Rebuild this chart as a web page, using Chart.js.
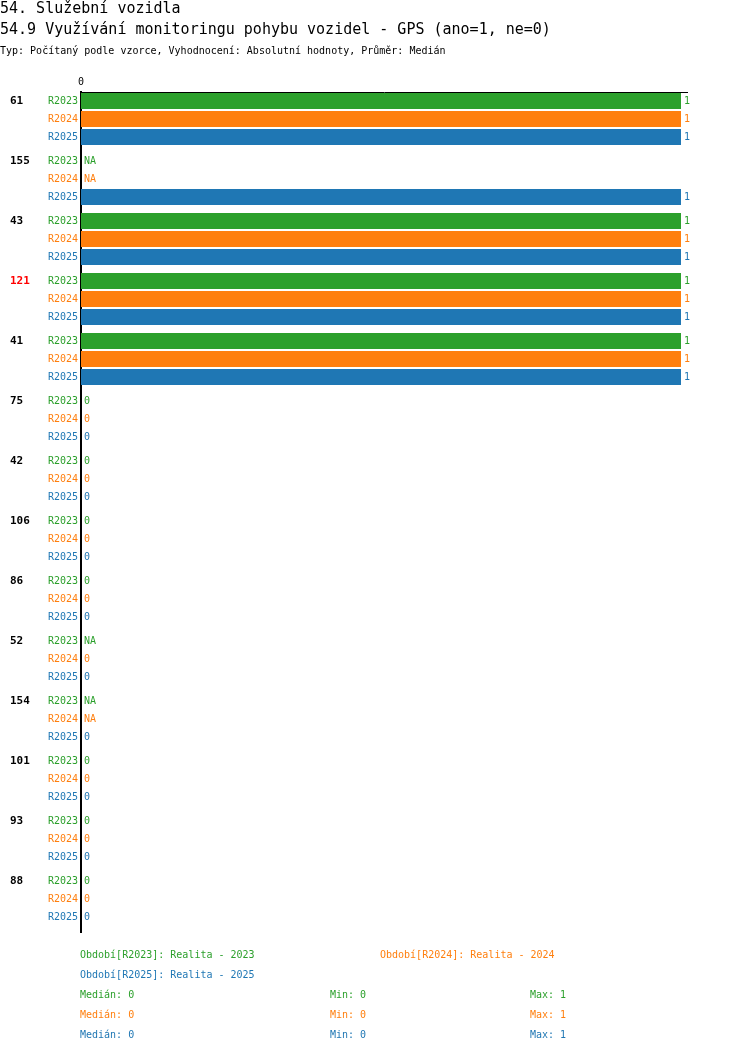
<!DOCTYPE html>
<html>
<head>
<meta charset="utf-8">
<script src="https://cdn.jsdelivr.net/npm/chart.js@4/dist/chart.umd.min.js"></script>
<style>
  html, body { margin:0; padding:0; background:#fff; }
  #wrap { position:relative; width:750px; height:1052px; overflow:hidden; font-family:"DejaVu Sans Mono", monospace; }
  #chart { position:absolute; left:0; top:0; }
  .t { position:absolute; white-space:pre; }
  .h1 { font-size:15px; line-height:15px; color:#000; }
  .sm { font-size:10px; line-height:10px; }
</style>
</head>
<body>
<div id="wrap">
  <canvas id="chart" width="750" height="1052"></canvas>
  <div class="t h1" style="left:0;top:1px;">54. Služební vozidla</div>
  <div class="t h1" style="left:0;top:22px;">54.9 Využívání monitoringu pohybu vozidel - GPS (ano=1, ne=0)</div>
  <div class="t sm" style="left:0;top:46px;color:#000;">Typ: Počítaný podle vzorce, Vyhodnocení: Absolutní hodnoty, Průměr: Medián</div>
  <div id="legend"></div>
</div>
<script>
const groups = ['61', '155', '43', '121', '41', '75', '42', '106', '86', '52', '154', '101', '93', '88'];
const highlighted = ['121'];
const r2023 = [1, null, 1, 1, 1, 0, 0, 0, 0, null, null, 0, 0, 0];
const r2024 = [1, null, 1, 1, 1, 0, 0, 0, 0, 0, null, 0, 0, 0];
const r2025 = [1, 1, 1, 1, 1, 0, 0, 0, 0, 0, 0, 0, 0, 0];
const seriesNames = ['R2023', 'R2024', 'R2025'];
const periodNames = ['Realita - 2023', 'Realita - 2024', 'Realita - 2025'];
const xTicks = [0];

const COLORS = ['#2ca02c', '#ff7f0e', '#1f77b4'];
const FONT = '"DejaVu Sans Mono", monospace';
const series = [r2023, r2024, r2025];

function median(arr) {
  const v = arr.filter(x => x !== null).sort((a, b) => a - b);
  if (!v.length) return 'NA';
  const m = Math.floor(v.length / 2);
  return v.length % 2 ? v[m] : (v[m - 1] + v[m]) / 2;
}

// legend / stats under the chart
const leg = document.getElementById('legend');
const periodPos = [[80, 950], [380, 950], [80, 969.5]];
let html = '';
series.forEach((s, i) => {
  const c = COLORS[i];
  const [px, py] = periodPos[i];
  html += `<div class="t sm" style="left:${px}px;top:${py}px;color:${c}">Období[${seriesNames[i]}]: ${periodNames[i]}</div>`;
  const vals = s.filter(x => x !== null);
  const top = 989.5 + i * 20;
  html += `<div class="t sm" style="left:80px;top:${top}px;color:${c}">Medián: ${median(s)}</div>`;
  html += `<div class="t sm" style="left:330px;top:${top}px;color:${c}">Min: ${Math.min(...vals)}</div>`;
  html += `<div class="t sm" style="left:530px;top:${top}px;color:${c}">Max: ${Math.max(...vals)}</div>`;
});
leg.innerHTML = html;

const rowLabels = {
  id: 'rowLabels',
  afterDatasetsDraw(chart) {
    const ctx = chart.ctx, xs = chart.scales.x;
    const zero = xs.getPixelForValue(0);
    ctx.save();
    ctx.textBaseline = 'middle';
    chart.data.datasets.forEach((ds, di) => {
      const meta = chart.getDatasetMeta(di);
      meta.data.forEach((bar, i) => {
        const y = bar.y;
        ctx.fillStyle = COLORS[di];
        ctx.font = `10px ${FONT}`;
        ctx.textAlign = 'right';
        ctx.fillText(seriesNames[di], 78, y);
        ctx.textAlign = 'left';
        const v = ds.data[i];
        const x = v === null ? zero : bar.x;
        ctx.fillText(v === null ? 'NA' : String(v), x + 3, y);
        if (di === 0) {
          ctx.font = `bold 11px ${FONT}`;
          ctx.fillStyle = highlighted.includes(groups[i]) ? '#ff0000' : '#000';
          ctx.fillText(groups[i], 10, y);
        }
      });
    });
    ctx.restore();
  }
};

new Chart(document.getElementById('chart'), {
  type: 'bar',
  data: {
    labels: groups,
    datasets: series.map((s, i) => ({
      label: seriesNames[i], data: s,
      backgroundColor: COLORS[i], borderWidth: 0,
      categoryPercentage: 0.9, barPercentage: 0.88,
    })),
  },
  options: {
    indexAxis: 'y', responsive: false, animation: false,
    layout: { padding: { left: 0, top: 0, right: 63, bottom: 120 } },
    plugins: { legend: { display: false }, tooltip: { enabled: false } },
    scales: {
      x: {
        position: 'top', min: 0, max: 1.01,
        afterBuildTicks: s => { s.ticks = xTicks.map(v => ({ value: v })); },
        afterFit: s => { s.height = 92; },
        grid: { display: false, drawTicks: false },
        border: { display: true, color: '#000', width: 1 },
        ticks: { color: '#000', padding: 4, font: { size: 10, family: FONT }, maxRotation: 0 },
      },
      y: {
        type: 'category', offset: true,
        // groups sit at the top of each band, gap below
        afterDataLimits: s => { s.min += 0.05; s.max += 0.05; },
        afterFit: s => { s.width = 81; },
        grid: { display: false, drawTicks: false },
        border: { display: true, color: '#000', width: 2 },
        ticks: { display: false },
      },
    },
  },
  plugins: [rowLabels],
});
</script>
</body>
</html>
